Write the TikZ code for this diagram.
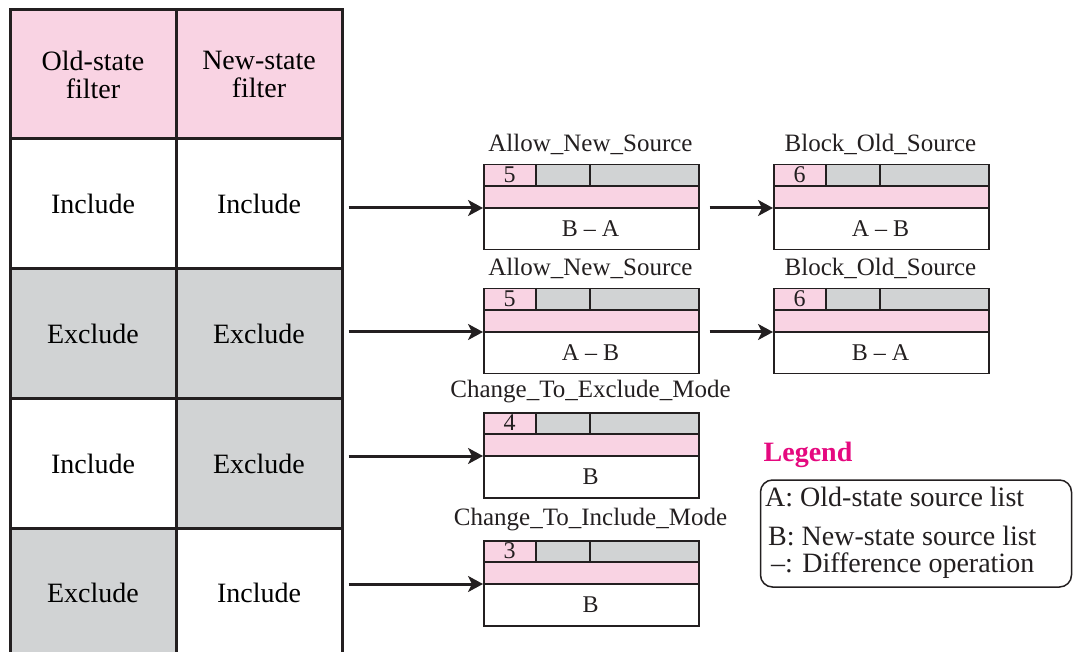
\documentclass[tikz,border=0pt]{standalone}
\usepackage{fontspec}
\setmainfont{Liberation Serif}
\usetikzlibrary{arrows.meta}
\definecolor{pinkfill}{RGB}{249,211,227}
\definecolor{grayfill}{RGB}{209,211,212}
\definecolor{legendmag}{RGB}{229,9,127}
\definecolor{inkline}{RGB}{35,31,32}

% #1 name, #2 left, #3 top, #4 type number, #5 message name, #6 source list
\newcommand{\msgbox}[6]{%
	\fill[pinkfill] (#2,#3) rectangle ++(53,22);
	\fill[grayfill] (#2+53,#3) rectangle ++(162,22);
	\fill[pinkfill] (#2,#3+22) rectangle ++(215,22);
	\draw[boxline] (#2+53,#3) -- ++(0,22);
	\draw[boxline] (#2+107,#3) -- ++(0,22);
	\draw[boxline] (#2,#3+22) -- ++(215,0);
	\draw[boxline] (#2,#3+44) -- ++(215,0);
	\node[msgframe, anchor=north west] (#1) at (#2,#3) {};
	\node[msgtype] (#1-type) at (#2+107.5,#3-20) {#5};
	\node[msgnum] (#1-num) at (#2+26.5,#3+11) {#4};
	\node[msgtext] (#1-text) at (#2+107.5,#3+65) {#6};
	\coordinate (#1-in) at (#2,#3+44);
}

\begin{document}
\begin{tikzpicture}[x=1pt, y=-1pt,
		cell/.style={draw=inkline, line width=3pt, minimum width=166pt, minimum height=130pt, inner sep=0pt, align=center, font=\fontsize{28}{28}\selectfont},
		boxline/.style={draw=inkline, line width=1.5pt},
		msgframe/.style={draw=inkline, line width=1.5pt, minimum width=215pt, minimum height=85pt, inner sep=0pt},
		msgtype/.style={inner sep=0pt, font=\fontsize{25}{25}\selectfont, text=inkline},
		msgnum/.style={inner sep=0pt, font=\fontsize{24}{24}\selectfont, text=inkline},
		msgtext/.style={inner sep=0pt, font=\fontsize{24}{24}\selectfont, text=inkline},
		legtext/.style={inner sep=0pt, anchor=west, font=\fontsize{28}{28}\selectfont, text=inkline},
		arr/.style={draw=inkline, line width=3pt, -{Stealth[length=15pt, width=16pt, inset=4pt]}}]
	\clip (0,0) rectangle (1074,652);
	% filter table
	\node[cell, fill=pinkfill, minimum height=129pt] (hold) at (93,74.5) {Old-state\\filter};
	\node[cell, fill=pinkfill, minimum height=129pt] (hnew) at (259,74.5) {New-state\\filter};
	\node[cell, fill=white] (r1old) at (93,204) {Include};
	\node[cell, fill=white] (r1new) at (259,204) {Include};
	\node[cell, fill=grayfill] (r2old) at (93,334) {Exclude};
	\node[cell, fill=grayfill] (r2new) at (259,334) {Exclude};
	\node[cell, fill=white] (r3old) at (93,463.5) {Include};
	\node[cell, fill=grayfill] (r3new) at (259,463.5) {Exclude};
	\node[cell, fill=grayfill] (r4old) at (93,593) {Exclude};
	\node[cell, fill=white] (r4new) at (259,593) {Include};
	% report messages
	\msgbox{allow1}{483}{164}{5}{Allow\_New\_Source}{B – A}
	\msgbox{block1}{773}{164}{6}{Block\_Old\_Source}{A – B}
	\msgbox{allow2}{483}{288}{5}{Allow\_New\_Source}{A – B}
	\msgbox{block2}{773}{288}{6}{Block\_Old\_Source}{B – A}
	\msgbox{toexcl}{483}{412}{4}{Change\_To\_Exclude\_Mode}{B}
	\msgbox{toincl}{483}{540}{3}{Change\_To\_Include\_Mode}{B}
	% arrows
	\draw[arr] ([xshift=5pt]r1new.east |- allow1-in) -- (allow1-in);
	\draw[arr] ([xshift=5pt]r2new.east |- allow2-in) -- (allow2-in);
	\draw[arr] ([xshift=5pt]r3new.east |- toexcl-in) -- (toexcl-in);
	\draw[arr] ([xshift=5pt]r4new.east |- toincl-in) -- (toincl-in);
	\draw[arr] ([xshift=10pt]allow1.east |- block1-in) -- (block1-in);
	\draw[arr] ([xshift=10pt]allow2.east |- block2-in) -- (block2-in);
	% legend
	\node[inner sep=0pt, font=\fontsize{28}{28}\selectfont\bfseries, text=legendmag] (legtitle) at (808,455) {Legend};
	\node[draw=inkline, line width=1.5pt, rounded corners=12pt, minimum width=311pt, minimum height=107pt] (legbox) at (916,533.5) {};
	\node[legtext] (lega) at (765,497) {A: Old-state source list};
	\node[legtext] (legb) at (768,536) {B: New-state source list};
	\node[legtext] (legc) at (771,566) {–: Difference operation};
\end{tikzpicture}
\end{document}
